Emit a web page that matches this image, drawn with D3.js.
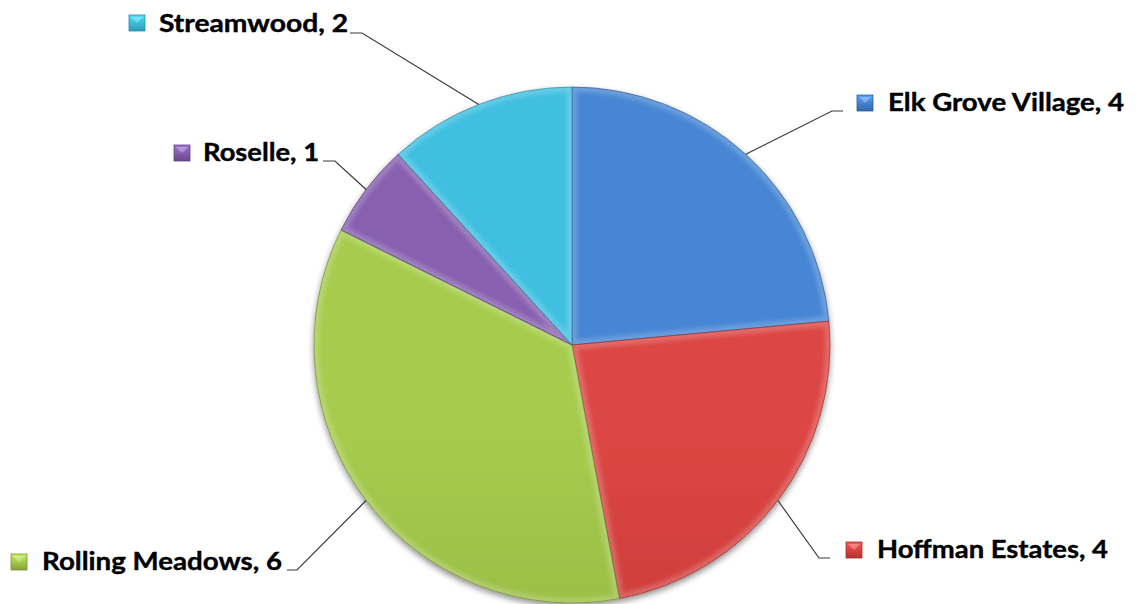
<!DOCTYPE html>
<html>
<head>
<meta charset="utf-8">
<script src="https://cdn.jsdelivr.net/npm/d3@7/dist/d3.min.js"></script>
<style>
  html, body { margin: 0; padding: 0; background: #ffffff; }
  svg { display: block; }
</style>
</head>
<body>
<svg id="chart" width="1136" height="604"></svg>
<script>
// Cities and counts
const cities = ["Elk Grove Village", "Hoffman Estates", "Rolling Meadows", "Roselle", "Streamwood"];
const counts = [4, 4, 6, 1, 2];
const colors = ["#3b76c0", "#c93b39", "#96b943", "#7852a0", "#35aed0"];
const lightColors = ["#4686d4", "#dc4644", "#a6cb4d", "#8760b0", "#3fbfe0"];

// Label layout: square + text and the elbow of each leader line
const labelLayout = [
  { sx: 857, sy: 95,  tx: 888, ty: 111, tw: 236, elbow: [832, 111], end: [843, 111] },
  { sx: 846, sy: 542, tx: 877, ty: 558, tw: 231, elbow: [819, 558], end: [830, 558] },
  { sx: 11,  sy: 554, tx: 42,  ty: 570, tw: 240, elbow: [297, 570], end: [287, 570] },
  { sx: 174, sy: 145, tx: 203, ty: 161, tw: 116, elbow: [335, 161], end: [323, 161] },
  { sx: 129, sy: 15,  tx: 159, ty: 32,  tw: 189, elbow: [362, 33],  end: [350, 33] }
];

const svg = d3.select("#chart");
const cx = 572, cy = 345, R = 258;

const defs = svg.append("defs");

// soft shadow under the pie
const shadow = defs.append("filter").attr("id", "pieShadow")
  .attr("x", "-10%").attr("y", "-10%").attr("width", "120%").attr("height", "125%");
shadow.append("feGaussianBlur").attr("in", "SourceAlpha").attr("stdDeviation", 3).attr("result", "b");
shadow.append("feOffset").attr("in", "b").attr("dx", 0).attr("dy", 3).attr("result", "o");
shadow.append("feComponentTransfer").attr("in", "o").attr("result", "s")
  .append("feFuncA").attr("type", "linear").attr("slope", 0.45);
const m = shadow.append("feMerge");
m.append("feMergeNode").attr("in", "s");
m.append("feMergeNode").attr("in", "SourceGraphic");

const bevelBlur = defs.append("filter").attr("id", "bevelBlur")
  .attr("x", "-5%").attr("y", "-5%").attr("width", "110%").attr("height", "110%");
bevelBlur.append("feGaussianBlur").attr("stdDeviation", 2);

// per-slice vertical gradients (lighter at the top)
colors.forEach((c, i) => {
  const g = defs.append("linearGradient").attr("id", "grad" + i)
    .attr("gradientUnits", "userSpaceOnUse")
    .attr("x1", 0).attr("y1", cy - R).attr("x2", 0).attr("y2", cy + R);
  g.append("stop").attr("offset", "0%").attr("stop-color", lightColors[i]);
  g.append("stop").attr("offset", "50%").attr("stop-color", c);
  g.append("stop").attr("offset", "100%").attr("stop-color", d3.color(c).darker(0.35));
  const sg = defs.append("linearGradient").attr("id", "sq" + i)
    .attr("x1", 0).attr("y1", 0).attr("x2", 0).attr("y2", 1);
  sg.append("stop").attr("offset", "0%").attr("stop-color", d3.color(lightColors[i]).brighter(0.5));
  sg.append("stop").attr("offset", "100%").attr("stop-color", d3.color(c).darker(0.4));
});

const pie = d3.pie().sort(null).value(d => d)(counts);
const arc = d3.arc().innerRadius(0).outerRadius(R);

const gPie = svg.append("g").attr("transform", `translate(${cx},${cy})`).attr("filter", "url(#pieShadow)");

pie.forEach((p, i) => {
  defs.append("clipPath").attr("id", "clip" + i)
    .append("path").attr("d", arc(p));
});

const slices = gPie.selectAll("g.slice").data(pie).join("g").attr("class", "slice");

slices.append("path")
  .attr("d", arc)
  .attr("fill", (d, i) => `url(#grad${i})`);

// bevel: light rim inside each slice and a darker seam on its edges
slices.append("path")
  .attr("d", arc)
  .attr("fill", "none")
  .attr("stroke", "#ffffff")
  .attr("stroke-opacity", 0.2)
  .attr("stroke-width", 10)
  .attr("clip-path", (d, i) => `url(#clip${i})`)
  .attr("filter", "url(#bevelBlur)");

slices.append("path")
  .attr("d", arc)
  .attr("fill", "none")
  .attr("stroke", (d, i) => d3.color(colors[i]).darker(1.1))
  .attr("stroke-opacity", 0.6)
  .attr("stroke-width", 1);

// leader lines, markers and labels
const gLab = svg.append("g");
pie.forEach((p, i) => {
  const L = labelLayout[i];
  const a = (p.startAngle + p.endAngle) / 2;
  const px = cx + R * Math.sin(a), py = cy - R * Math.cos(a);
  gLab.append("polyline")
    .attr("points", [[px, py], L.elbow, L.end].map(q => q.join(",")).join(" "))
    .attr("fill", "none")
    .attr("stroke", "#3a3a3a")
    .attr("stroke-width", 1.2);

  gLab.append("rect")
    .attr("x", L.sx).attr("y", L.sy)
    .attr("width", 16).attr("height", 16)
    .attr("fill", `url(#sq${i})`)
    .attr("stroke", d3.color(colors[i]).darker(0.6))
    .attr("stroke-width", 0.8);
  gLab.append("path")
    .attr("d", `M${L.sx + 2},${L.sy + 2} L${L.sx + 8},${L.sy + 8} L${L.sx + 14},${L.sy + 2} Z`)
    .attr("fill", "#ffffff").attr("fill-opacity", 0.3);

  gLab.append("text")
    .attr("x", L.tx).attr("y", L.ty)
    .attr("font-family", "Lato, 'Open Sans', sans-serif")
    .attr("font-weight", "bold")
    .attr("font-size", 25)
    .attr("fill", "#000000")
    .attr("stroke", "#000000")
    .attr("stroke-width", 0.4)
    .attr("textLength", L.tw)
    .attr("lengthAdjust", "spacingAndGlyphs")
    .text(`${cities[i]}, ${counts[i]}`);
});
</script>
</body>
</html>
